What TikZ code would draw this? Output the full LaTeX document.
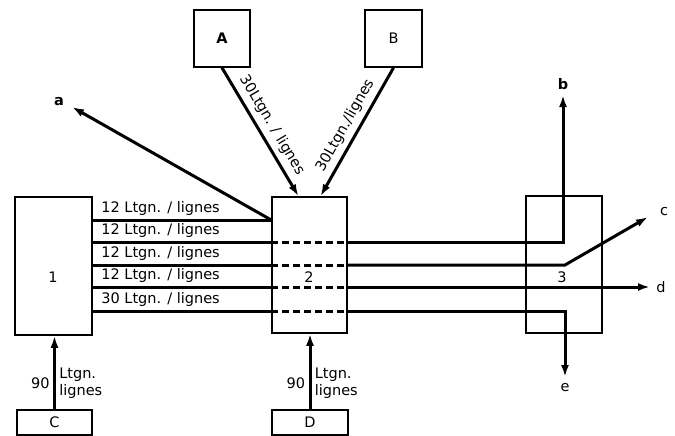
\documentclass[tikz,border=0pt]{standalone}
\usepackage{fontspec}
\setmainfont{DejaVu Sans}
\usetikzlibrary{arrows.meta}

\begin{document}
\begin{tikzpicture}[x=1pt, y=-1pt,
    every node/.style={font=\fontsize{14.5}{17}\selectfont},
    box/.style={draw, line width=1.5pt, inner sep=0pt},
    wire/.style={line width=3pt},
    link/.style={wire, dash pattern=on 7pt off 4pt},
    feed/.style={wire, -{Latex[length=12pt,width=8pt]}}]
    \useasboundingbox (0,0) rectangle (675,436);

    % Draw the boxes
    \node[box, minimum width=77pt, minimum height=138pt] (n1) at (53.5,266) {};
    \node[box, minimum width=75pt, minimum height=136pt] (n2) at (309.5,265) {};
    \node[box, minimum width=76pt, minimum height=137pt] (n3) at (564,264.5) {};
    \node[box, minimum width=56pt, minimum height=57pt] (nA) at (222,38.5) {\bfseries A};
    \node[box, minimum width=57pt, minimum height=57pt] (nB) at (393.5,38.5) {B};
    \node[box, minimum width=75pt, minimum height=25pt] (nC) at (54.5,422.5) {C};
    \node[box, minimum width=76pt, minimum height=25pt] (nD) at (310,422.5) {D};

    % Numbers of the boxes
    \node (t1) at (53,277) {1};
    \node (t2) at (309,277) {2};
    \node (t3) at (562,277) {3};

    % Levels of the lines
    \foreach \lv/\yy in {l1/220, l2/242, l3/265, l4/287, l5/311}
        \coordinate (\lv) at (0,\yy);

    % Draw the lines from 1 to 2
    \foreach \lv/\num in {l1/12, l2/12, l3/12, l4/12, l5/30}
        \draw[wire] (n1.east |- \lv) -- node[pos=0.38, above, inner sep=2.5pt] {\num\ Ltgn. / lignes} (n2.west |- \lv);

    % Lines through 2
    \foreach \lv in {l2, l3, l4, l5}
        \draw[link] (n2.west |- \lv) -- (n2.east |- \lv);

    % Ends of the outgoing lines
    \coordinate (ta) at (72,107);
    \coordinate (tb) at (563,95);
    \coordinate (tc) at (648,217);
    \coordinate (td) at (650,287);
    \coordinate (te) at (565,377);

    % Draw the outgoing lines
    \draw[feed] (n2.west |- l1) -- (ta);
    \draw[feed] (n2.east |- l2) -| (tb);
    \draw[feed] (n2.east |- l3) -- (te |- l3) -- (tc);
    \draw[feed] (n2.east |- l4) -- (td);
    \draw[feed] (n2.east |- l5) -| (te);

    % Labels of the outgoing lines
    \node (la) at (59,102) {\bfseries a};
    \node (lb) at (563,84) {\bfseries b};
    \node (lc) at (664,212) {c};
    \node (ld) at (661,287) {d};
    \node (le) at (565,388) {e};

    % Draw the lines from A and B
    \draw[feed] (nA.south) -- node[sloped, above, inner sep=5pt] {30Ltgn. / lignes} ([xshift=-11pt]n2.north);
    \draw[feed] (nB.south) -- node[sloped, above, inner sep=5pt] {30Ltgn./lignes} ([xshift=11pt]n2.north);

    % Draw the lines from C and D
    \draw[feed] (nC.north) -- node[pos=0.35, left] {90} node[pos=0.35, right, align=left] {Ltgn.\\lignes} (nC.north |- n1.south);
    \draw[feed] (nD.north) -- node[pos=0.35, left] {90} node[pos=0.35, right, align=left] {Ltgn.\\lignes} (nD.north |- n2.south);

\end{tikzpicture}
\end{document}
